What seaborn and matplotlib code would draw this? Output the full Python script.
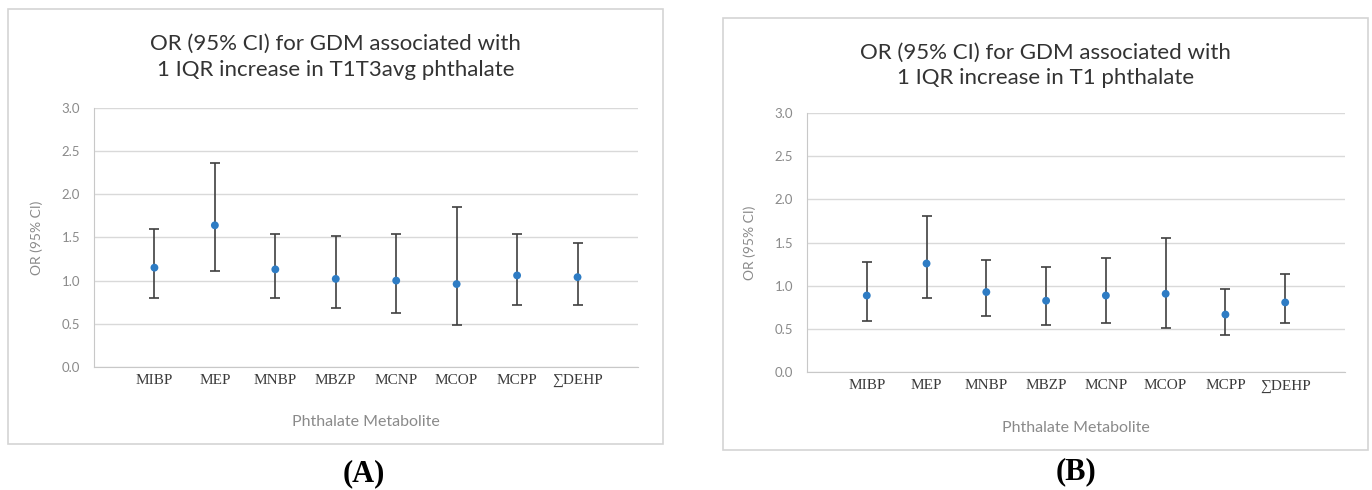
import matplotlib
matplotlib.use("Agg")
import matplotlib.pyplot as plt
from matplotlib.patches import Rectangle
import seaborn as sns
import numpy as np
import pandas as pd

metabolites = ["MIBP", "MEP", "MNBP", "MBZP", "MCNP", "MCOP", "MCPP", "\u2211DEHP"]

# panel A: T1T3avg
or_a = [1.15, 1.64, 1.13, 1.02, 1.00, 0.96, 1.06, 1.04]
lo_a = [0.80, 1.11, 0.80, 0.68, 0.62, 0.49, 0.72, 0.72]
hi_a = [1.60, 2.36, 1.54, 1.52, 1.54, 1.85, 1.54, 1.44]

# panel B: T1
or_b = [0.89, 1.26, 0.93, 0.83, 0.89, 0.91, 0.67, 0.81]
lo_b = [0.59, 0.86, 0.65, 0.55, 0.57, 0.51, 0.43, 0.57]
hi_b = [1.28, 1.81, 1.30, 1.22, 1.32, 1.55, 0.96, 1.14]

titles = ["OR (95% CI) for GDM associated with\n1 IQR increase in T1T3avg phthalate",
          "OR (95% CI) for GDM associated with\n1 IQR increase in T1 phthalate"]
panel_tags = ["(A)", "(B)"]

sns.set_style("white")
plt.rcParams["font.family"] = ["Lato", "DejaVu Sans"]

fig = plt.figure(figsize=(13.72, 4.9), dpi=100)

# chart frames (Excel style boxes)
for x0, y0, w, h in [(0.0058, 0.0935, 0.4774, 0.888), (0.527, 0.0816, 0.470, 0.8816)]:
    fig.add_artist(Rectangle((x0, y0), w, h, transform=fig.transFigure,
                             fill=False, edgecolor="#d4d4d4", linewidth=1.2))

axes_pos = [[0.0685, 0.2510, 0.3965, 0.529], [0.5882, 0.2398, 0.3921, 0.5296]]
title_pos = [(0.2445, 0.884), (0.762, 0.866)]
tag_pos = [(0.2655, 0.033), (0.784, 0.037)]

panels = [(or_a, lo_a, hi_a), (or_b, lo_b, hi_b)]

for i, (odds, lo, hi) in enumerate(panels):
    df = pd.DataFrame({"Metabolite": metabolites, "OR": odds, "Lower": lo, "Upper": hi})
    ax = fig.add_axes(axes_pos[i])

    sns.scatterplot(data=df, x="Metabolite", y="OR", ax=ax, color="#2e7cc4",
                    s=32, edgecolor="none", zorder=3)
    ax.errorbar(df["Metabolite"], df["OR"],
                yerr=[df["OR"] - df["Lower"], df["Upper"] - df["OR"]],
                fmt="none", ecolor="#404040", elinewidth=1.2, capsize=3.6,
                capthick=1.2, zorder=2)

    ax.set_xlim(-1, 8)
    ax.set_ylim(0, 3.0)
    ax.set_yticks(np.arange(0, 3.01, 0.5))
    ax.set_yticklabels([f"{v:.1f}" for v in np.arange(0, 3.01, 0.5)])
    ax.yaxis.grid(True, color="#d9d9d9", linewidth=1.0)
    ax.xaxis.grid(False)
    ax.set_axisbelow(True)
    for side in ["top", "right"]:
        ax.spines[side].set_visible(False)
    ax.spines["left"].set_color("#c8c8c8")
    ax.spines["bottom"].set_color("#c8c8c8")
    ax.tick_params(axis="y", length=0, pad=10, labelsize=9.5, labelcolor="#8a8a8a")
    ax.tick_params(axis="x", length=0, pad=5, labelsize=11, labelcolor="#3a3a3a")
    for lab in ax.get_xticklabels():
        lab.set_fontfamily(["Liberation Serif", "DejaVu Serif"])

    ax.set_ylabel("OR (95% CI)", fontsize=10, color="#8a8a8a")
    ax.yaxis.set_label_coords(-0.094, 0.5)
    ax.set_xlabel("Phthalate Metabolite", fontsize=11.5, color="#8a8a8a")
    ax.xaxis.set_label_coords(0.5, -0.185)

    fig.text(title_pos[i][0], title_pos[i][1], titles[i], ha="center", va="center",
             fontsize=16, color="#333333", linespacing=1.35)
    fig.text(tag_pos[i][0], tag_pos[i][1], panel_tags[i], ha="center", va="center",
             fontsize=22, fontweight="bold", family=["Liberation Serif", "DejaVu Serif"],
             color="black")

fig.savefig("out.png", dpi=100)
